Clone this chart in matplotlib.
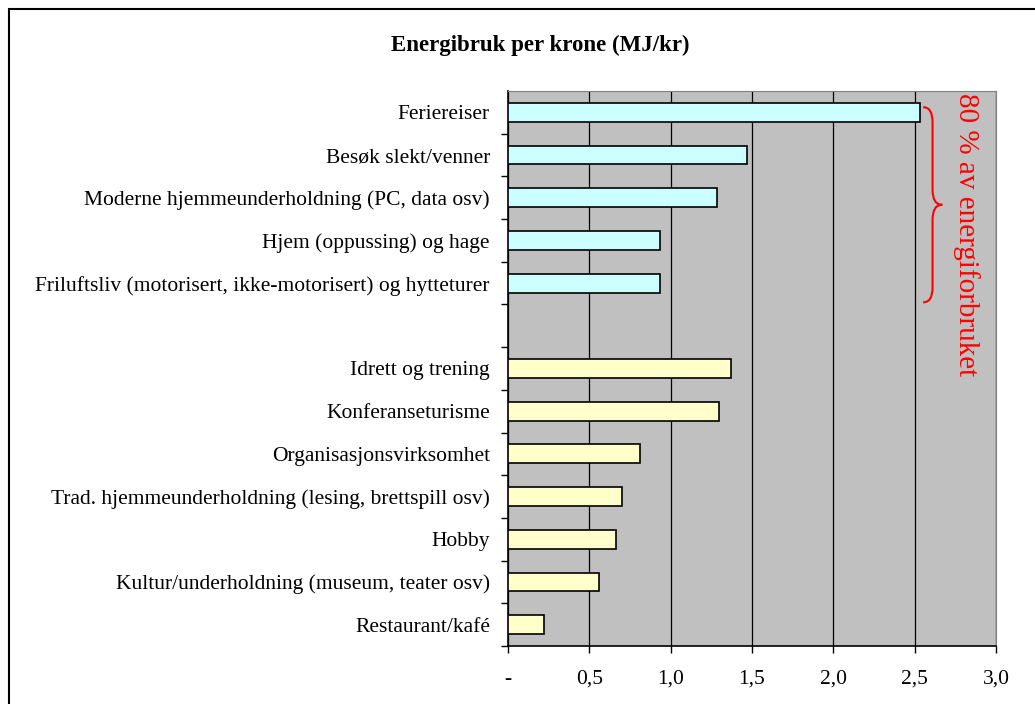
import numpy as np
import matplotlib
matplotlib.use("Agg")
import matplotlib.pyplot as plt
from matplotlib.path import Path
from matplotlib.patches import PathPatch, Rectangle

# --- DATA ---
title = "Energibruk per krone (MJ/kr)"
top_labels = ["Feriereiser", "Besøk slekt/venner",
              "Moderne hjemmeunderholdning (PC, data osv)",
              "Hjem (oppussing) og hage",
              "Friluftsliv (motorisert, ikke-motorisert) og hytteturer"]
top_values = [2.53, 1.47, 1.285, 0.935, 0.935]
bottom_labels = ["Idrett og trening", "Konferanseturisme",
                 "Organisasjonsvirksomhet",
                 "Trad. hjemmeunderholdning (lesing, brettspill osv)",
                 "Hobby", "Kultur/underholdning (museum, teater osv)",
                 "Restaurant/kafé"]
bottom_values = [1.37, 1.295, 0.81, 0.70, 0.665, 0.56, 0.22]
x_ticks = [0, 0.5, 1.0, 1.5, 2.0, 2.5, 3.0]
x_ticklabels = ["-", "0,5", "1,0", "1,5", "2,0", "2,5", "3,0"]
note = "80 % av energiforbruket"

plt.rcParams['font.family'] = ['Liberation Serif', 'DejaVu Serif']

fig = plt.figure(figsize=(10.35, 7.04), dpi=100)
ax = fig.add_axes([508 / 1035, 1 - 646 / 704, 488 / 1035, 555 / 704])
ax.set_facecolor("#c0c0c0")

# positions: top group, one empty slot, bottom group
top_pos = np.arange(len(top_labels))
bottom_pos = np.arange(len(bottom_labels)) + len(top_labels) + 1
n_slots = len(top_labels) + 1 + len(bottom_labels)

ax.barh(top_pos, top_values, height=0.44, color="#ccffff",
        edgecolor="black", linewidth=1.2, zorder=3)
ax.barh(bottom_pos, bottom_values, height=0.44, color="#ffffcc",
        edgecolor="black", linewidth=1.2, zorder=3)

ax.set_ylim(n_slots - 0.5, -0.5)
ax.set_xlim(0, 3.0)

ax.set_yticks(list(top_pos) + list(bottom_pos))
ax.set_yticklabels(top_labels + bottom_labels, fontsize=15.5)
ax.set_yticks(np.arange(1, n_slots + 1) - 0.5, minor=True)
ax.tick_params(axis="y", which="major", length=0, pad=13)
ax.tick_params(axis="y", which="minor", length=5, direction="out", width=1)

ax.set_xticks(x_ticks)
ax.set_xticklabels(x_ticklabels, fontsize=15.5)
ax.tick_params(axis="x", length=5, direction="out", width=1, pad=12)

ax.grid(axis="x", color="black", linewidth=0.9, zorder=1)
ax.set_axisbelow(True)
for side in ["top", "right"]:
    ax.spines[side].set_color("#808080")
for side in ["left", "bottom"]:
    ax.spines[side].set_color("black")
    ax.spines[side].set_linewidth(1.2)

# red curly brace around the first group
x0, x1, x2 = 2.552, 2.61, 2.67
yt, yb = top_pos[0] - 0.12, top_pos[-1] + 0.45
ym = (yt + yb) / 2
d = 0.35
verts = [(x0, yt), (x1, yt), (x1, yt + d),
         (x1, ym - d), (x1, ym), (x2, ym),
         (x1, ym), (x1, ym + d),
         (x1, yb - d), (x1, yb), (x0, yb)]
codes = [Path.MOVETO, Path.CURVE3, Path.CURVE3,
         Path.LINETO, Path.CURVE3, Path.CURVE3,
         Path.CURVE3, Path.CURVE3,
         Path.LINETO, Path.CURVE3, Path.CURVE3]
ax.add_patch(PathPatch(Path(verts, codes), facecolor="none",
                       edgecolor="red", linewidth=1.5, zorder=4))
ax.text(2.82, -0.45, note, rotation=-90, color="red", fontsize=21,
        ha="center", va="top", zorder=5)

fig.text(540 / 1035, 1 - 45 / 704, title, fontsize=16.5, fontweight="bold",
         ha="center", va="center")

# outer chart border
fig.patches.append(Rectangle((9 / 1035, -0.05), 1.2, 1 - 9 / 704 + 0.05,
                             transform=fig.transFigure, fill=False,
                             edgecolor="black", linewidth=1.5))

fig.savefig("out.png", dpi=100)
